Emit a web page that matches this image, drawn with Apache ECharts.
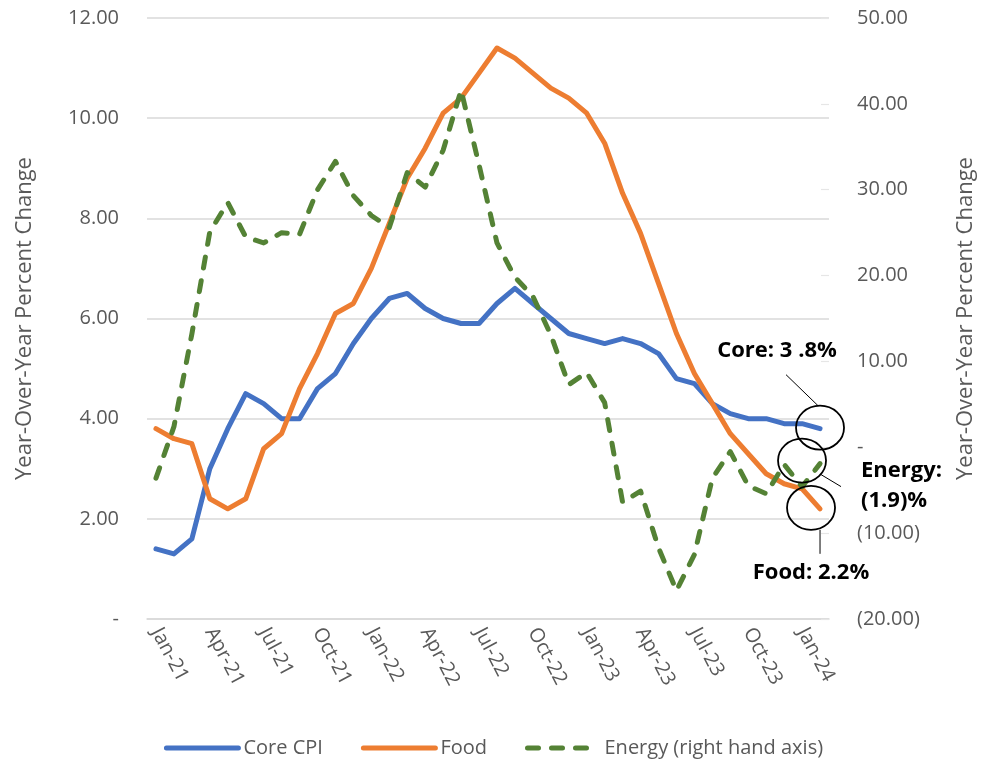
<!DOCTYPE html>
<html>
<head>
<meta charset="utf-8">
<script src="https://cdn.jsdelivr.net/npm/echarts@6/dist/echarts.min.js"></script>
<style>
  html, body { margin: 0; padding: 0; background: #fff; }
  #chart { width: 987px; height: 760px; }
</style>
</head>
<body>
<div id="chart"></div>
<script>
// months, Jan-21 .. Feb-24
const months = [
  'Jan-21', 'Feb-21', 'Mar-21', 'Apr-21', 'May-21', 'Jun-21', 'Jul-21', 'Aug-21', 'Sep-21', 'Oct-21', 'Nov-21', 'Dec-21',
  'Jan-22', 'Feb-22', 'Mar-22', 'Apr-22', 'May-22', 'Jun-22', 'Jul-22', 'Aug-22', 'Sep-22', 'Oct-22', 'Nov-22', 'Dec-22',
  'Jan-23', 'Feb-23', 'Mar-23', 'Apr-23', 'May-23', 'Jun-23', 'Jul-23', 'Aug-23', 'Sep-23', 'Oct-23', 'Nov-23', 'Dec-23',
  'Jan-24', 'Feb-24'
]
// year-over-year % change, left axis
const coreCpi = [
  1.4, 1.3, 1.6, 3.0, 3.8, 4.5, 4.3, 4.0, 4.0, 4.6, 4.9, 5.5,
  6.0, 6.4, 6.5, 6.2, 6.0, 5.9, 5.9, 6.3, 6.6, 6.3, 6.0, 5.7,
  5.6, 5.5, 5.6, 5.5, 5.3, 4.8, 4.7, 4.3, 4.1, 4.0, 4.0, 3.9,
  3.9, 3.8
]
const food = [
  3.8, 3.6, 3.5, 2.4, 2.2, 2.4, 3.4, 3.7, 4.6, 5.3, 6.1, 6.3,
  7.0, 7.9, 8.8, 9.4, 10.1, 10.4, 10.9, 11.4, 11.2, 10.9, 10.6, 10.4,
  10.1, 9.5, 8.5, 7.7, 6.7, 5.7, 4.9, 4.3, 3.7, 3.3, 2.9, 2.7,
  2.6, 2.2
]
// right axis
const energy = [
  -3.6, 2.4, 13.2, 25.1, 28.5, 24.5, 23.8, 25.0, 24.8, 30.0, 33.3, 29.3,
  27.0, 25.6, 32.0, 30.3, 34.6, 41.6, 32.9, 23.8, 19.8, 17.6, 13.1, 7.3,
  8.7, 5.2, -6.4, -5.1, -11.7, -16.7, -12.5, -3.6, -0.5, -4.5, -5.4, -2.0,
  -4.6, -1.9
]
const leftTicks = { min: 0, max: 12, interval: 2 }
const rightTicks = { min: -20, max: 50, interval: 10 }
const seriesNames = ['Core CPI', 'Food', 'Energy (right hand axis)']
const callouts = ['Core: 3 .8%', 'Energy:\n(1.9)%', 'Food: 2.2%']

const FONT = '"Open Sans", "Noto Sans", sans-serif'
const GREY = '#595959'
const GRID_GREY = '#d9d9d9'
const LINE_W = 5

const chart = echarts.init(document.getElementById('chart'))

const fmtLeft = v => (v === 0 ? '-' : v.toFixed(2))
const fmtRight = v => {
  if (v === 0) return '-'
  if (v < 0) return '(' + Math.abs(v).toFixed(2) + ')'
  return v.toFixed(2)
}

const option = {
  animation: false,
  textStyle: { fontFamily: FONT },
  grid: { left: 147, right: 158, top: 18, bottom: 141 },
  legend: {
    data: seriesNames,
    top: 733,
    left: 'center',
    itemWidth: 72,
    itemHeight: 14,
    itemGap: 38,
    itemStyle: { opacity: 0 },
    lineStyle: { width: LINE_W },
    textStyle: { color: GREY, fontSize: 20, fontFamily: FONT }
  },
  xAxis: {
    type: 'category',
    data: months,
    boundaryGap: true,
    axisLine: { lineStyle: { color: GRID_GREY, width: 1.5 } },
    axisTick: { interval: 2, length: 8, lineStyle: { color: GRID_GREY, width: 1.5 } },
    axisLabel: {
      interval: 2,
      rotate: -62,
      margin: 10,
      color: GREY,
      fontSize: 20,
      fontFamily: FONT
    }
  },
  yAxis: [{
    type: 'value',
    ...leftTicks,
    position: 'left',
    name: 'Year-Over-Year Percent Change',
    nameLocation: 'middle',
    nameGap: 111,
    nameTextStyle: { color: GREY, fontSize: 22, fontFamily: FONT },
    axisLine: { show: false },
    axisTick: { show: false },
    axisLabel: { formatter: fmtLeft, color: GREY, fontSize: 20, margin: 28, fontFamily: FONT },
    splitLine: { lineStyle: { color: GRID_GREY, width: 1.5 } }
  }, {
    type: 'value',
    ...rightTicks,
    position: 'right',
    name: 'Year-Over-Year Percent Change',
    nameLocation: 'middle',
    nameGap: 126,
    nameRotate: 90,
    nameTextStyle: { color: GREY, fontSize: 22, fontFamily: FONT },
    axisLine: { show: false },
    axisTick: { show: true, inside: true, length: 8, lineStyle: { color: '#e6e6e6', width: 1.2 } },
    axisLabel: { formatter: fmtRight, color: GREY, fontSize: 20, margin: 28, fontFamily: FONT },
    splitLine: { show: false }
  }],
  series: [{
    name: seriesNames[0],
    type: 'line',
    data: coreCpi,
    yAxisIndex: 0,
    symbol: 'none',
    lineStyle: { color: '#4472c4', width: LINE_W, cap: 'round', join: 'round' },
    itemStyle: { color: '#4472c4' }
  }, {
    name: seriesNames[1],
    type: 'line',
    data: food,
    yAxisIndex: 0,
    symbol: 'none',
    lineStyle: { color: '#ed7d31', width: LINE_W, cap: 'round', join: 'round' },
    itemStyle: { color: '#ed7d31' }
  }, {
    name: seriesNames[2],
    type: 'line',
    data: energy,
    yAxisIndex: 1,
    symbol: 'none',
    lineStyle: { color: '#548235', width: LINE_W, type: [11, 13], cap: 'round', join: 'round' },
    itemStyle: { color: '#548235' }
  }]
}
chart.setOption(option)

// callout circles, leader lines and labels placed off the last data points
const last = months.length - 1
const pCore = chart.convertToPixel({ xAxisIndex: 0, yAxisIndex: 0 }, [last, coreCpi[last]])
const pFood = chart.convertToPixel({ xAxisIndex: 0, yAxisIndex: 0 }, [last, food[last]])
const pEnergy = chart.convertToPixel({ xAxisIndex: 0, yAxisIndex: 1 }, [last, energy[last]])

const ring = (p, dx, dy) => ({
  type: 'ellipse',
  shape: { cx: p[0] + dx, cy: p[1] + dy, rx: 24, ry: 22 },
  style: { fill: 'none', stroke: '#000', lineWidth: 1.8 },
  z: 100
})
const leader = (p, x1, y1, x2, y2) => ({
  type: 'line',
  shape: { x1: p[0] + x1, y1: p[1] + y1, x2: p[0] + x2, y2: p[1] + y2 },
  style: { stroke: '#000', lineWidth: 1 },
  z: 100
})
const label = (p, dx, dy, text, align) => ({
  type: 'text',
  style: {
    text: text,
    x: p[0] + dx,
    y: p[1] + dy,
    fill: '#000',
    fontSize: 22,
    fontWeight: 'bold',
    fontFamily: FONT,
    lineHeight: 30,
    align: align,
    verticalAlign: 'middle'
  },
  z: 100
})

chart.setOption({
  graphic: [
    ring(pCore, 0, -1),
    leader(pCore, -34, -54, -2, -23),
    label(pCore, -43, -78, callouts[0], 'center'),
    ring(pEnergy, -18, -3),
    leader(pEnergy, 1, 11, 21, 23),
    label(pEnergy, 41, 22, callouts[1], 'left'),
    ring(pFood, -9, -1),
    leader(pFood, 0, 21, 0, 45),
    label(pFood, -9, 64, callouts[2], 'center')
  ]
})
</script>
</body>
</html>
